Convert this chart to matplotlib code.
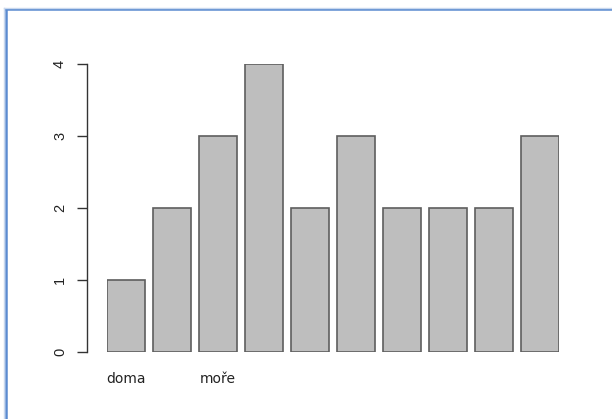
import matplotlib
matplotlib.use("Agg")
import matplotlib.pyplot as plt
from matplotlib.lines import Line2D

counts = [1, 2, 3, 4, 2, 3, 2, 2, 2, 3]
bar_labels = ["doma", "", "moře", "", "", "", "", "", "", ""]
y_ticks = [0, 1, 2, 3, 4]

W, H, DPI = 612, 419, 100
PX = 72 / DPI  # points per pixel
fig = plt.figure(figsize=(W / DPI, H / DPI), dpi=DPI)
fig.patch.set_facecolor("white")

# plotting region in pixel units
left_px, right_px = 107, 559
bottom_px, top_px = 352, 64
ax = fig.add_axes([left_px / W, 1 - bottom_px / H,
                   (right_px - left_px) / W, (bottom_px - top_px) / H])

# R-style barplot positions: width 1, space 0.2
positions = [0.7 + 1.2 * i for i in range(len(counts))]
ax.bar(positions, counts, width=1.0, color="#bebebe", edgecolor="#5e5e5e",
       linewidth=1.2)

ax.set_xlim(0.2, 12.0)
ax.set_ylim(0, 4)

for side in ("top", "right", "bottom"):
    ax.spines[side].set_visible(False)
ax.spines["left"].set_position(("outward", 20 * PX))
ax.spines["left"].set_color("#333333")
ax.spines["left"].set_linewidth(1.0)

ax.set_yticks(y_ticks)
ax.set_yticklabels([str(v) for v in y_ticks], rotation=90, va="center",
                   fontsize=10.5, family="Liberation Sans", color="#222222")
ax.tick_params(axis="y", length=10 * PX, width=1.0, color="#333333",
               pad=10 * PX)

ax.set_xticks([])
for x, lab in zip(positions, bar_labels):
    if lab:
        ax.text(x, -0.37, lab, ha="center", va="center", fontsize=10,
                family="DejaVu Sans", color="#222222")

# blue frame along the left and top edges
fig.add_artist(Line2D([6 / W, 6 / W], [0, 1 - 9 / H], transform=fig.transFigure,
                      color="#5b8bd0", linewidth=1.8))
fig.add_artist(Line2D([6 / W, 1], [1 - 9.5 / H, 1 - 9.5 / H], transform=fig.transFigure,
                      color="#5b8bd0", linewidth=1.8))
fig.add_artist(Line2D([4 / W, 4 / W], [0, 1 - 8 / H], transform=fig.transFigure,
                      color="#c9d8ee", linewidth=1.0))
fig.add_artist(Line2D([4 / W, 1], [1 - 8 / H, 1 - 8 / H], transform=fig.transFigure,
                      color="#c9d8ee", linewidth=1.0))

fig.savefig("out.png", dpi=DPI, facecolor="white")
